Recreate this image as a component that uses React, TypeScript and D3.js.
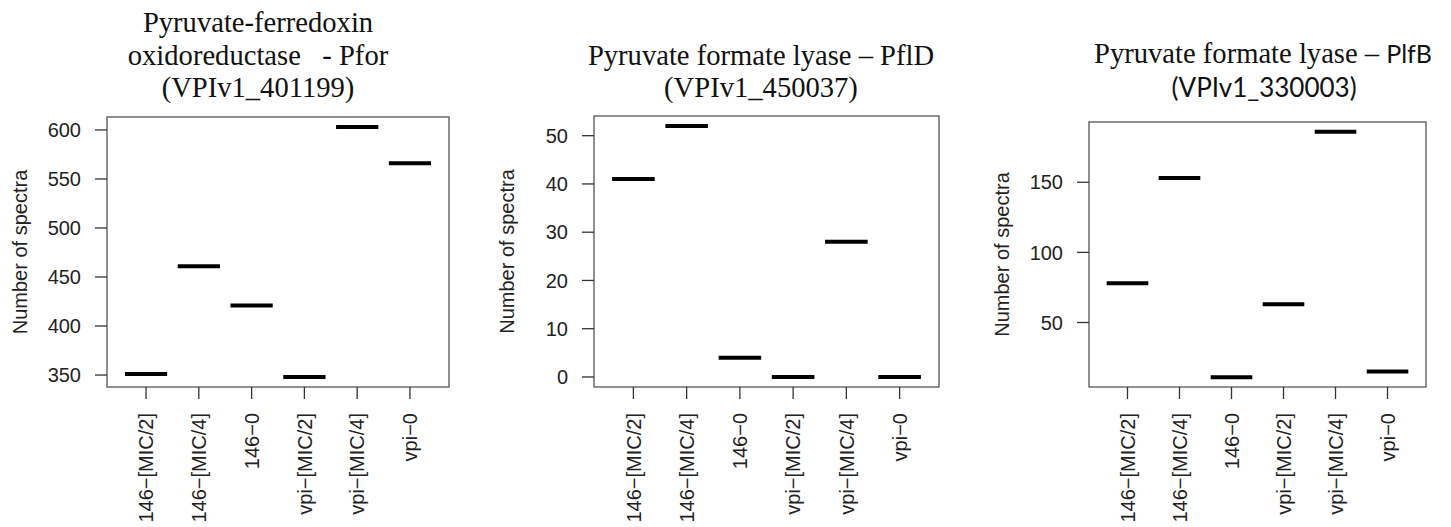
import React from "react";
import * as d3 from "d3";

const groups = ["146−[MIC/2]", "146−[MIC/4]", "146−0", "vpi−[MIC/2]", "vpi−[MIC/4]", "vpi−0"];
const pforValues = [351, 461, 421, 348, 603, 566];
const pflDValues = [41, 52, 4, 0, 28, 0];
const plfBValues = [78, 153, 11, 63, 186, 15];
const pforTicks = [350, 400, 450, 500, 550, 600];
const pflDTicks = [0, 10, 20, 30, 40, 50];
const plfBTicks = [50, 100, 150];
const yLabel = "Number of spectra";

type Panel = {
  values: number[];
  ticks: number[];
  box: { l: number; r: number; t: number; b: number };
  title: React.ReactNode;
};

const SANS = "'Liberation Sans', Arial, Helvetica, sans-serif";
const SERIF = "'Liberation Serif', 'Times New Roman', serif";
const CAL = "Lato, 'Open Sans', sans-serif";
const TS = 28.6;

const panels: Panel[] = [
  {
    values: pforValues,
    ticks: pforTicks,
    box: { l: 107, r: 449, t: 117, b: 387 },
    title: (
      <text fontFamily={SERIF} fontSize={TS} fill="#111" textAnchor="middle" style={{ whiteSpace: "pre" }}>
        <tspan x={258} y={32}>Pyruvate-ferredoxin</tspan>
        <tspan x={258} y={65}>{"oxidoreductase   - Pfor"}</tspan>
        <tspan x={258} y={97}>(VPIv1_401199)</tspan>
      </text>
    ),
  },
  {
    values: pflDValues,
    ticks: pflDTicks,
    box: { l: 594, r: 939, t: 116, b: 387 },
    title: (
      <text fontFamily={SERIF} fontSize={TS} fill="#111" textAnchor="middle">
        <tspan x={761} y={65}>Pyruvate formate lyase – PflD</tspan>
        <tspan x={761} y={97}>(VPIv1_450037)</tspan>
      </text>
    ),
  },
  {
    values: plfBValues,
    ticks: plfBTicks,
    box: { l: 1089, r: 1426, t: 122, b: 387 },
    title: (
      <g fill="#111">
        <text x={1263} y={63} textAnchor="middle" fontSize={TS} fontFamily={SERIF} style={{ whiteSpace: "pre" }}>
          <tspan>{"Pyruvate formate lyase – "}</tspan>
          <tspan fontFamily={CAL} fontSize={25}>PlfB</tspan>
        </text>
        <text x={1264} y={97} textAnchor="middle" fontSize={26} fontFamily={CAL}>
          (VPIv1_330003)
        </text>
      </g>
    ),
  },
];

function PanelView({ p }: { p: Panel }) {
  const { l, r, t, b } = p.box;
  const n = groups.length;
  const x = d3.scaleLinear().domain([0.5 - 0.04 * n, n + 0.5 + 0.04 * n]).range([l, r]);
  const [mn, mx] = d3.extent(p.values) as [number, number];
  const pad = (mx - mn) * 0.04;
  const y = d3.scaleLinear().domain([mn - pad, mx + pad]).range([b, t]);
  const halfW = 0.4;
  return (
    <g>
      {p.title}
      <rect x={l} y={t} width={r - l} height={b - t} fill="none" stroke="#555" strokeWidth={1.3} />
      {p.values.map((v, i) => (
        <line key={"m" + i} x1={x(i + 1 - halfW)} x2={x(i + 1 + halfW)} y1={y(v)} y2={y(v)} stroke="#000" strokeWidth={4} />
      ))}
      {p.ticks.map((tv) => (
        <g key={"yt" + tv}>
          <line x1={l - 12} x2={l} y1={y(tv)} y2={y(tv)} stroke="#333" strokeWidth={1.3} />
          <text x={l - 26} y={y(tv)} dy="0.36em" textAnchor="end" fontFamily={SANS} fontSize={20} fill="#222">
            {tv}
          </text>
        </g>
      ))}
      {groups.map((g, i) => (
        <g key={"xt" + i}>
          <line x1={x(i + 1)} x2={x(i + 1)} y1={b} y2={b + 12} stroke="#333" strokeWidth={1.3} />
          <text
            transform={`translate(${x(i + 1)},${b + 26}) rotate(-90)`}
            dy="0.36em"
            textAnchor="end"
            fontFamily={SANS}
            fontSize={20}
            fill="#222"
          >
            {g}
          </text>
        </g>
      ))}
      <text
        transform={`translate(${l - 87},${(t + b) / 2}) rotate(-90)`}
        dy="0.36em"
        textAnchor="middle"
        fontFamily={SANS}
        fontSize={20}
        fill="#222"
      >
        {yLabel}
      </text>
    </g>
  );
}

export default function App() {
  return (
    <svg
      width={1451}
      height={527}
      style={{ position: "fixed", left: 0, top: 0, background: "#fff" }}
      xmlns="http://www.w3.org/2000/svg"
    >
      <rect width={1451} height={527} fill="#fff" />
      {panels.map((p, i) => (
        <PanelView key={i} p={p} />
      ))}
    </svg>
  );
}
